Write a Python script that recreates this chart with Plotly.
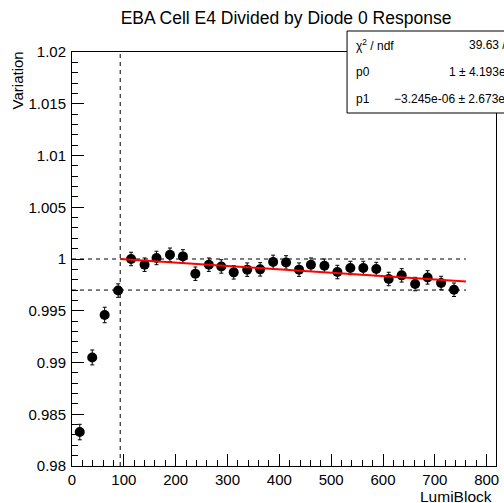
import plotly.graph_objects as go

# ---- measurements: cell response / diode response per LumiBlock ----
lumi_block = [15, 39, 63, 89, 114, 140, 163, 189, 214, 238, 264, 288, 312, 338, 363,
              388, 413, 438, 461, 487, 512, 537, 562, 587, 611, 636, 662, 686, 712, 737]
variation = [0.98328, 0.99049, 0.99459, 0.99695, 1.00000, 0.99945, 1.00010, 1.00041,
             1.00025, 0.99858, 0.99945, 0.99928, 0.99871, 0.99897, 0.99900, 0.99972,
             0.99967, 0.99897, 0.99945, 0.99935, 0.99874, 0.99913, 0.99913, 0.99903,
             0.99807, 0.99842, 0.99758, 0.99822, 0.99768, 0.99703]
variation_err = [0.00075, 0.00072, 0.00075, 0.00065, 0.00065, 0.00065, 0.00065, 0.00065,
                 0.00065, 0.00065, 0.00065, 0.00065, 0.00065, 0.00065, 0.00065, 0.00065,
                 0.00065, 0.00065, 0.00065, 0.00065, 0.00065, 0.00065, 0.00065, 0.00065,
                 0.00065, 0.00065, 0.00065, 0.00065, 0.00065, 0.00065]

# ---- linear fit (pol1) results ----
fit_range = [93, 760]
p0, p0_err = 1.0003, 4.193e-05
p1, p1_err = -3.245e-06, 2.673e-07
chi2, ndf = 39.63, 24

# ---- reference lines ----
ref_levels = [1.0, 0.997]
ref_x_end = 760
cut_lumi = 93

# ---- axes ----
x_range = [0, 818]
y_range = [0.98, 1.02]
x_ticks = [0, 100, 200, 300, 400, 500, 600, 700, 800]
x_tick_labels = ["0", "100", "200", "300", "400", "500", "600", "700", "800"]
y_ticks = [0.98, 0.985, 0.99, 0.995, 1.0, 1.005, 1.01, 1.015, 1.02]
y_tick_labels = ["0.98", "0.985", "0.99", "0.995", "1", "1.005", "1.01", "1.015", "1.02"]

W, H = 504, 503
ML, MR, MT, MB = 72, 5, 52, 37
FONT = "Liberation Sans, Arial, Helvetica, sans-serif"


def px_x(px):
    return (px - ML) / (W - ML - MR)


def px_y(py):
    return (H - MB - py) / (H - MT - MB)


fig = go.Figure()

# data points with error bars
fig.add_trace(go.Scatter(
    x=lumi_block, y=variation, mode="markers",
    marker=dict(color="black", size=10),
    error_y=dict(type="data", array=variation_err, color="black", thickness=1, width=2),
    showlegend=False, hoverinfo="skip",
))

# fitted line
fit_x = fit_range
fit_y = [p0 + p1 * x for x in fit_x]
fig.add_trace(go.Scatter(
    x=fit_x, y=fit_y, mode="lines",
    line=dict(color="#ff0000", width=2),
    showlegend=False, hoverinfo="skip",
))

shapes = []
for lvl in ref_levels:
    shapes.append(dict(type="line", xref="x", yref="y", x0=x_range[0], x1=ref_x_end,
                       y0=lvl, y1=lvl, layer="below",
                       line=dict(color="black", width=1, dash="4px,4px")))
shapes.append(dict(type="line", xref="x", yref="y", x0=cut_lumi, x1=cut_lumi,
                   y0=y_range[0], y1=y_range[1], layer="below",
                   line=dict(color="black", width=1, dash="4px,4px")))

# statistics box (extends past the right edge of the canvas)
shapes.append(dict(type="rect", xref="paper", yref="paper",
                   x0=px_x(349), x1=px_x(534), y0=px_y(113), y1=px_y(31),
                   layer="above", fillcolor="white", line=dict(color="black", width=1)))

stat_rows = [
    ("χ<sup>2</sup> / ndf", f"{chi2:.4g} / {ndf}"),
    ("p0", f"{p0:.4g} ± {p0_err:.4g}"),
    ("p1", f"{p1:.4g} ± {p1_err:.4g}".replace("-", "−", 1)),
]
row_y = [45, 72, 99]

annotations = []
for (lab, val), ry in zip(stat_rows, row_y):
    annotations.append(dict(xref="paper", yref="paper", x=px_x(356), y=px_y(ry),
                            xanchor="left", yanchor="middle", showarrow=False,
                            text=lab, font=dict(family=FONT, size=12, color="black")))
    annotations.append(dict(xref="paper", yref="paper", x=px_x(528), y=px_y(ry),
                            xanchor="right", yanchor="middle", showarrow=False,
                            text=val, font=dict(family=FONT, size=12, color="black")))

# axis titles
annotations.append(dict(xref="paper", yref="paper", x=px_x(18), y=px_y(80),
                        xanchor="center", yanchor="middle", showarrow=False, textangle=-90,
                        text="Variation", font=dict(family=FONT, size=15, color="black")))
annotations.append(dict(xref="paper", yref="paper", x=px_x(497), y=px_y(496),
                        xanchor="right", yanchor="middle", showarrow=False,
                        text="LumiBlock", font=dict(family=FONT, size=15.5, color="black")))

axis_common = dict(
    showgrid=False, zeroline=False, showline=True, linecolor="black", linewidth=1,
    mirror=True, ticks="inside", ticklen=12, tickwidth=1, tickcolor="black",
    tickfont=dict(family=FONT, size=15, color="black"),
)

fig.update_layout(
    width=W, height=H,
    margin=dict(l=ML, r=MR, t=MT, b=MB, pad=0),
    paper_bgcolor="white", plot_bgcolor="white",
    title=dict(text="EBA Cell E4 Divided by Diode 0 Response",
               xref="container", yref="container", x=286 / W, y=1 - 18 / H,
               xanchor="center", yanchor="middle",
               font=dict(family=FONT, size=17.5, color="black")),
    xaxis=dict(range=x_range, tickvals=x_ticks, ticktext=x_tick_labels,
               minor=dict(dtick=20, ticks="inside", ticklen=6, tickcolor="black"),
               **axis_common),
    yaxis=dict(range=y_range, tickvals=y_ticks, ticktext=y_tick_labels,
               ticklabelstandoff=2,
               minor=dict(dtick=0.001, tick0=0.98, ticks="inside", ticklen=6, tickcolor="black"),
               **axis_common),
    shapes=shapes,
    annotations=annotations,
)

fig.write_html("out.html", config={"displayModeBar": False})
